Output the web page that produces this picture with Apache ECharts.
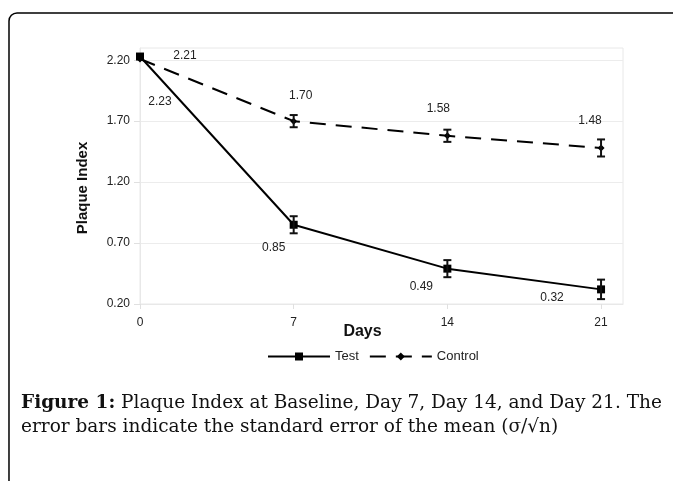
<!DOCTYPE html>
<html>
<head>
<meta charset="utf-8">
<script src="https://cdn.jsdelivr.net/npm/echarts@6/dist/echarts.min.js"></script>
<style>
  html, body { margin: 0; padding: 0; background: #fff; }
  #chart { width: 673px; height: 481px; }
</style>
</head>
<body>
<div id="chart"></div>
<script>
  const days = [0, 7, 14, 21];
  const yTicks = [0.2, 0.7, 1.2, 1.7, 2.2];
  const testMean = [2.23, 0.85, 0.49, 0.32];
  const testErr = [0, 0.07, 0.07, 0.08];
  const controlMean = [2.21, 1.70, 1.58, 1.48];
  const controlErr = [0, 0.05, 0.05, 0.07];
  // hand-placed label offsets, like the original figure
  const testLabelOffset = [[20, 45], [-20, 23], [-26, 18], [-49, 8]];
  const controlLabelOffset = [[45, -3], [7, -25], [-9, -27], [-11, -27]];

  const labelFont = {fontFamily: 'Liberation Sans', fontSize: 12, color: '#222'};

  function lineData(means, offsets) {
    return days.map((d, i) => ({
      value: [d, means[i]],
      label: {offset: offsets[i]}
    }));
  }

  function errData(means, errs) {
    return days.map((d, i) => [d, means[i] - errs[i], means[i] + errs[i]]);
  }

  function renderErr(params, api) {
    const lo = api.value(1);
    const hi = api.value(2);
    if (hi - lo <= 0) {
      return null;
    }
    const a = api.coord([api.value(0), lo]);
    const b = api.coord([api.value(0), hi]);
    const w = 4;
    const style = {stroke: '#111', lineWidth: 2};
    return {
      type: 'group',
      children: [
        {type: 'line', shape: {x1: a[0], y1: a[1], x2: b[0], y2: b[1]}, style: style},
        {type: 'line', shape: {x1: a[0] - w, y1: a[1], x2: a[0] + w, y2: a[1]}, style: style},
        {type: 'line', shape: {x1: b[0] - w, y1: b[1], x2: b[0] + w, y2: b[1]}, style: style}
      ]
    };
  }

  const chart = echarts.init(document.getElementById('chart'));

  const option = {
    animation: false,
    grid: {
      left: 140,
      right: 50,
      top: 48,
      bottom: 177,
      show: true,
      borderColor: '#e8e8e8',
      borderWidth: 1
    },
    legend: {
      left: 262,
      top: 345,
      itemWidth: 62,
      itemHeight: 10,
      itemGap: 10,
      textStyle: {fontFamily: 'Liberation Sans', fontSize: 13, color: '#222'},
      data: ['Test', 'Control']
    },
    xAxis: {
      type: 'value',
      min: 0,
      max: 22,
      interval: 7,
      name: 'Days',
      nameLocation: 'middle',
      nameGap: 20,
      nameMoveOverlap: false,
      nameTextStyle: {fontFamily: 'Liberation Sans', fontSize: 16, fontWeight: 'bold', color: '#111', padding: [0, 38, 0, 0]},
      axisLine: {show: true, lineStyle: {color: '#e8e8e8'}},
      axisTick: {show: true, length: 5, lineStyle: {color: '#e0e0e0'}, customValues: days},
      axisLabel: {customValues: days, margin: 13, ...labelFont},
      splitLine: {show: false}
    },
    yAxis: {
      type: 'value',
      min: 0.2,
      max: 2.3,
      interval: 0.5,
      name: 'Plaque Index',
      nameLocation: 'middle',
      nameGap: 50,
      nameMoveOverlap: false,
      nameRotate: 90,
      nameTextStyle: {fontFamily: 'Liberation Sans', fontSize: 15, fontWeight: 'bold', color: '#111', padding: [0, 24, 0, 0]},
      axisLine: {show: true, lineStyle: {color: '#e8e8e8'}},
      axisTick: {show: true, length: 6, lineStyle: {color: '#e0e0e0'}, customValues: yTicks},
      axisLabel: {
        customValues: yTicks,
        formatter: v => v.toFixed(2),
        margin: 10,
        ...labelFont
      },
      splitLine: {show: true, lineStyle: {color: '#ececec'}}
    },
    series: [
      {
        name: 'Test',
        type: 'line',
        data: lineData(testMean, testLabelOffset),
        symbol: 'rect',
        symbolSize: 8,
        itemStyle: {color: '#000'},
        lineStyle: {color: '#000', width: 2},
        label: {show: true, position: 'inside', formatter: p => p.value[1].toFixed(2), ...labelFont},
        z: 3
      },
      {
        name: 'Control',
        type: 'line',
        data: lineData(controlMean, controlLabelOffset),
        symbol: 'diamond',
        symbolSize: 7,
        itemStyle: {color: '#000'},
        lineStyle: {color: '#000', width: 2, type: [16, 10]},
        label: {show: true, position: 'inside', formatter: p => p.value[1].toFixed(2), ...labelFont},
        z: 3
      },
      {
        type: 'custom',
        data: errData(testMean, testErr),
        renderItem: renderErr,
        z: 4
      },
      {
        type: 'custom',
        data: errData(controlMean, controlErr),
        renderItem: renderErr,
        z: 4
      }
    ],
    graphic: [
      {
        type: 'rect',
        shape: {x: 9, y: 13, width: 720, height: 520, r: 8},
        style: {fill: 'none', stroke: '#000', lineWidth: 1.5},
        silent: true
      },
      {
        type: 'text',
        x: 21,
        y: 403,
        style: {
          text: '{b|Figure 1:} Plaque Index at Baseline, Day 7, Day 14, and Day 21. The',
          font: '18.5px "DejaVu Serif"',
          verticalAlign: 'middle',
          fill: '#111',
          rich: {b: {fontWeight: 'bold', fontSize: 18.5, fontFamily: 'DejaVu Serif', fill: '#111'}}
        }
      },
      {
        type: 'text',
        x: 21,
        y: 427,
        style: {
          text: 'error bars indicate the standard error of the mean (\u03c3/\u221an)',
          font: '18.5px "DejaVu Serif"',
          verticalAlign: 'middle',
          fill: '#111'
        }
      }
    ]
  };

  chart.setOption(option);
</script>
</body>
</html>
